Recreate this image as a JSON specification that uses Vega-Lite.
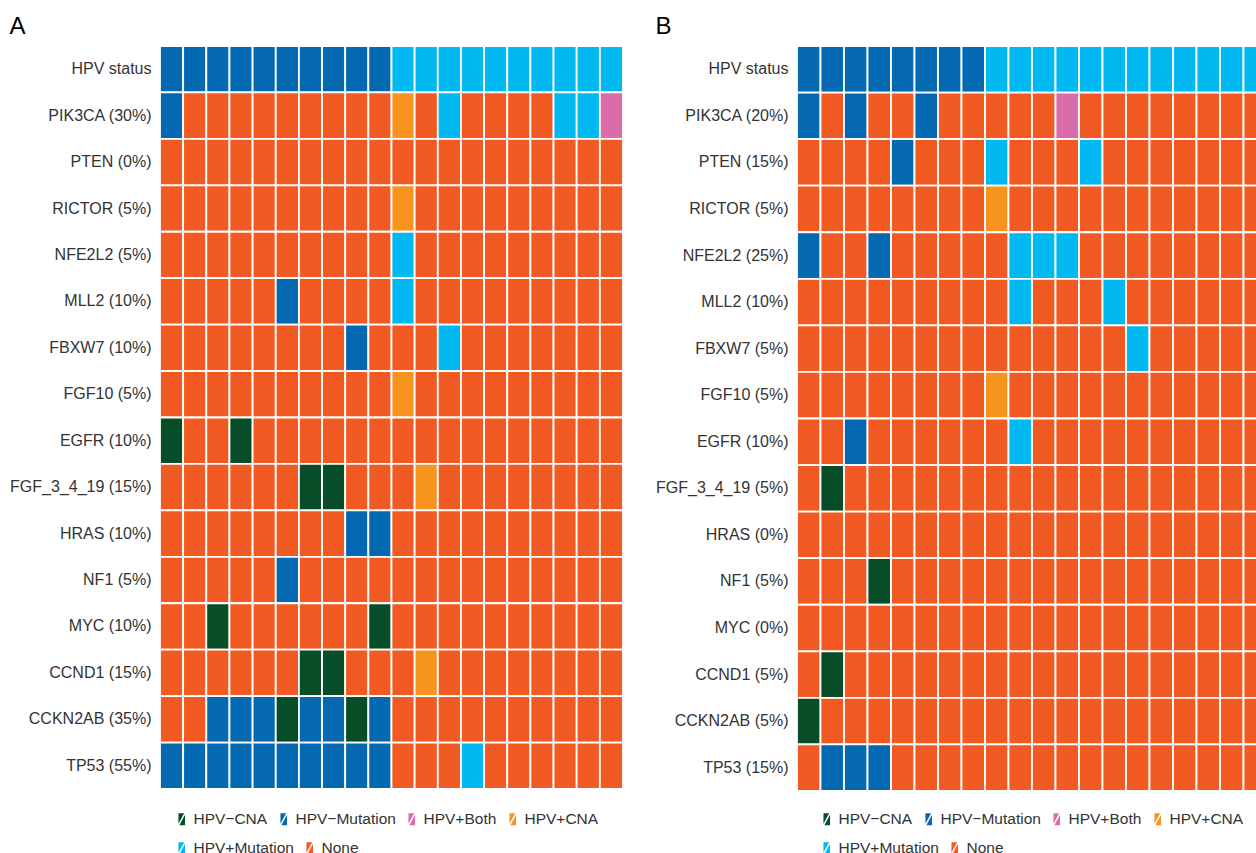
{
"$schema": "https://vega.github.io/schema/vega-lite/v6.json",
"padding": {"left": 9, "top": 15, "right": -10, "bottom": -2},
"config": {"view": {"stroke": null}, "font": "Liberation Sans",
  "axis": {"labelFont": "Liberation Sans", "labelFontSize": 16, "labelColor": "#333333", "ticks": false, "tickSize": 0, "domain": false, "grid": false, "labelPadding": 9, "title": null},
  "legend": {"labelFont": "Liberation Sans", "labelFontSize": 15.5, "labelColor": "#333333", "direction": "horizontal", "columnPadding": 8, "labelOffset": 4, "symbolSize": 144, "symbolStrokeWidth": 0, "symbolType": "M-0.55,-1L0.4,-1L-0.55,0.75ZM0.55,-0.75L0.55,1L-0.4,1Z", "title": null, "orient": "none"},
  "title": {"anchor": "start", "frame": "bounds", "fontSize": 24, "fontWeight": "normal", "color": "#000000", "font": "Liberation Sans", "offset": 6}
},
"datasets": {
"A": [
{"gene":"HPV status","sample":1,"status":"HPV−"},{"gene":"HPV status","sample":2,"status":"HPV−"},{"gene":"HPV status","sample":3,"status":"HPV−"},{"gene":"HPV status","sample":4,"status":"HPV−"},{"gene":"HPV status","sample":5,"status":"HPV−"},{"gene":"HPV status","sample":6,"status":"HPV−"},{"gene":"HPV status","sample":7,"status":"HPV−"},{"gene":"HPV status","sample":8,"status":"HPV−"},{"gene":"HPV status","sample":9,"status":"HPV−"},{"gene":"HPV status","sample":10,"status":"HPV−"},{"gene":"HPV status","sample":11,"status":"HPV+"},{"gene":"HPV status","sample":12,"status":"HPV+"},{"gene":"HPV status","sample":13,"status":"HPV+"},{"gene":"HPV status","sample":14,"status":"HPV+"},{"gene":"HPV status","sample":15,"status":"HPV+"},{"gene":"HPV status","sample":16,"status":"HPV+"},{"gene":"HPV status","sample":17,"status":"HPV+"},{"gene":"HPV status","sample":18,"status":"HPV+"},{"gene":"HPV status","sample":19,"status":"HPV+"},{"gene":"HPV status","sample":20,"status":"HPV+"},
{"gene":"PIK3CA (30%)","sample":1,"status":"HPV−Mutation"},{"gene":"PIK3CA (30%)","sample":2,"status":"None"},{"gene":"PIK3CA (30%)","sample":3,"status":"None"},{"gene":"PIK3CA (30%)","sample":4,"status":"None"},{"gene":"PIK3CA (30%)","sample":5,"status":"None"},{"gene":"PIK3CA (30%)","sample":6,"status":"None"},{"gene":"PIK3CA (30%)","sample":7,"status":"None"},{"gene":"PIK3CA (30%)","sample":8,"status":"None"},{"gene":"PIK3CA (30%)","sample":9,"status":"None"},{"gene":"PIK3CA (30%)","sample":10,"status":"None"},{"gene":"PIK3CA (30%)","sample":11,"status":"HPV+CNA"},{"gene":"PIK3CA (30%)","sample":12,"status":"None"},{"gene":"PIK3CA (30%)","sample":13,"status":"HPV+Mutation"},{"gene":"PIK3CA (30%)","sample":14,"status":"None"},{"gene":"PIK3CA (30%)","sample":15,"status":"None"},{"gene":"PIK3CA (30%)","sample":16,"status":"None"},{"gene":"PIK3CA (30%)","sample":17,"status":"None"},{"gene":"PIK3CA (30%)","sample":18,"status":"HPV+Mutation"},{"gene":"PIK3CA (30%)","sample":19,"status":"HPV+Mutation"},{"gene":"PIK3CA (30%)","sample":20,"status":"HPV+Both"},
{"gene":"PTEN (0%)","sample":1,"status":"None"},{"gene":"PTEN (0%)","sample":2,"status":"None"},{"gene":"PTEN (0%)","sample":3,"status":"None"},{"gene":"PTEN (0%)","sample":4,"status":"None"},{"gene":"PTEN (0%)","sample":5,"status":"None"},{"gene":"PTEN (0%)","sample":6,"status":"None"},{"gene":"PTEN (0%)","sample":7,"status":"None"},{"gene":"PTEN (0%)","sample":8,"status":"None"},{"gene":"PTEN (0%)","sample":9,"status":"None"},{"gene":"PTEN (0%)","sample":10,"status":"None"},{"gene":"PTEN (0%)","sample":11,"status":"None"},{"gene":"PTEN (0%)","sample":12,"status":"None"},{"gene":"PTEN (0%)","sample":13,"status":"None"},{"gene":"PTEN (0%)","sample":14,"status":"None"},{"gene":"PTEN (0%)","sample":15,"status":"None"},{"gene":"PTEN (0%)","sample":16,"status":"None"},{"gene":"PTEN (0%)","sample":17,"status":"None"},{"gene":"PTEN (0%)","sample":18,"status":"None"},{"gene":"PTEN (0%)","sample":19,"status":"None"},{"gene":"PTEN (0%)","sample":20,"status":"None"},
{"gene":"RICTOR (5%)","sample":1,"status":"None"},{"gene":"RICTOR (5%)","sample":2,"status":"None"},{"gene":"RICTOR (5%)","sample":3,"status":"None"},{"gene":"RICTOR (5%)","sample":4,"status":"None"},{"gene":"RICTOR (5%)","sample":5,"status":"None"},{"gene":"RICTOR (5%)","sample":6,"status":"None"},{"gene":"RICTOR (5%)","sample":7,"status":"None"},{"gene":"RICTOR (5%)","sample":8,"status":"None"},{"gene":"RICTOR (5%)","sample":9,"status":"None"},{"gene":"RICTOR (5%)","sample":10,"status":"None"},{"gene":"RICTOR (5%)","sample":11,"status":"HPV+CNA"},{"gene":"RICTOR (5%)","sample":12,"status":"None"},{"gene":"RICTOR (5%)","sample":13,"status":"None"},{"gene":"RICTOR (5%)","sample":14,"status":"None"},{"gene":"RICTOR (5%)","sample":15,"status":"None"},{"gene":"RICTOR (5%)","sample":16,"status":"None"},{"gene":"RICTOR (5%)","sample":17,"status":"None"},{"gene":"RICTOR (5%)","sample":18,"status":"None"},{"gene":"RICTOR (5%)","sample":19,"status":"None"},{"gene":"RICTOR (5%)","sample":20,"status":"None"},
{"gene":"NFE2L2 (5%)","sample":1,"status":"None"},{"gene":"NFE2L2 (5%)","sample":2,"status":"None"},{"gene":"NFE2L2 (5%)","sample":3,"status":"None"},{"gene":"NFE2L2 (5%)","sample":4,"status":"None"},{"gene":"NFE2L2 (5%)","sample":5,"status":"None"},{"gene":"NFE2L2 (5%)","sample":6,"status":"None"},{"gene":"NFE2L2 (5%)","sample":7,"status":"None"},{"gene":"NFE2L2 (5%)","sample":8,"status":"None"},{"gene":"NFE2L2 (5%)","sample":9,"status":"None"},{"gene":"NFE2L2 (5%)","sample":10,"status":"None"},{"gene":"NFE2L2 (5%)","sample":11,"status":"HPV+Mutation"},{"gene":"NFE2L2 (5%)","sample":12,"status":"None"},{"gene":"NFE2L2 (5%)","sample":13,"status":"None"},{"gene":"NFE2L2 (5%)","sample":14,"status":"None"},{"gene":"NFE2L2 (5%)","sample":15,"status":"None"},{"gene":"NFE2L2 (5%)","sample":16,"status":"None"},{"gene":"NFE2L2 (5%)","sample":17,"status":"None"},{"gene":"NFE2L2 (5%)","sample":18,"status":"None"},{"gene":"NFE2L2 (5%)","sample":19,"status":"None"},{"gene":"NFE2L2 (5%)","sample":20,"status":"None"},
{"gene":"MLL2 (10%)","sample":1,"status":"None"},{"gene":"MLL2 (10%)","sample":2,"status":"None"},{"gene":"MLL2 (10%)","sample":3,"status":"None"},{"gene":"MLL2 (10%)","sample":4,"status":"None"},{"gene":"MLL2 (10%)","sample":5,"status":"None"},{"gene":"MLL2 (10%)","sample":6,"status":"HPV−Mutation"},{"gene":"MLL2 (10%)","sample":7,"status":"None"},{"gene":"MLL2 (10%)","sample":8,"status":"None"},{"gene":"MLL2 (10%)","sample":9,"status":"None"},{"gene":"MLL2 (10%)","sample":10,"status":"None"},{"gene":"MLL2 (10%)","sample":11,"status":"HPV+Mutation"},{"gene":"MLL2 (10%)","sample":12,"status":"None"},{"gene":"MLL2 (10%)","sample":13,"status":"None"},{"gene":"MLL2 (10%)","sample":14,"status":"None"},{"gene":"MLL2 (10%)","sample":15,"status":"None"},{"gene":"MLL2 (10%)","sample":16,"status":"None"},{"gene":"MLL2 (10%)","sample":17,"status":"None"},{"gene":"MLL2 (10%)","sample":18,"status":"None"},{"gene":"MLL2 (10%)","sample":19,"status":"None"},{"gene":"MLL2 (10%)","sample":20,"status":"None"},
{"gene":"FBXW7 (10%)","sample":1,"status":"None"},{"gene":"FBXW7 (10%)","sample":2,"status":"None"},{"gene":"FBXW7 (10%)","sample":3,"status":"None"},{"gene":"FBXW7 (10%)","sample":4,"status":"None"},{"gene":"FBXW7 (10%)","sample":5,"status":"None"},{"gene":"FBXW7 (10%)","sample":6,"status":"None"},{"gene":"FBXW7 (10%)","sample":7,"status":"None"},{"gene":"FBXW7 (10%)","sample":8,"status":"None"},{"gene":"FBXW7 (10%)","sample":9,"status":"HPV−Mutation"},{"gene":"FBXW7 (10%)","sample":10,"status":"None"},{"gene":"FBXW7 (10%)","sample":11,"status":"None"},{"gene":"FBXW7 (10%)","sample":12,"status":"None"},{"gene":"FBXW7 (10%)","sample":13,"status":"HPV+Mutation"},{"gene":"FBXW7 (10%)","sample":14,"status":"None"},{"gene":"FBXW7 (10%)","sample":15,"status":"None"},{"gene":"FBXW7 (10%)","sample":16,"status":"None"},{"gene":"FBXW7 (10%)","sample":17,"status":"None"},{"gene":"FBXW7 (10%)","sample":18,"status":"None"},{"gene":"FBXW7 (10%)","sample":19,"status":"None"},{"gene":"FBXW7 (10%)","sample":20,"status":"None"},
{"gene":"FGF10 (5%)","sample":1,"status":"None"},{"gene":"FGF10 (5%)","sample":2,"status":"None"},{"gene":"FGF10 (5%)","sample":3,"status":"None"},{"gene":"FGF10 (5%)","sample":4,"status":"None"},{"gene":"FGF10 (5%)","sample":5,"status":"None"},{"gene":"FGF10 (5%)","sample":6,"status":"None"},{"gene":"FGF10 (5%)","sample":7,"status":"None"},{"gene":"FGF10 (5%)","sample":8,"status":"None"},{"gene":"FGF10 (5%)","sample":9,"status":"None"},{"gene":"FGF10 (5%)","sample":10,"status":"None"},{"gene":"FGF10 (5%)","sample":11,"status":"HPV+CNA"},{"gene":"FGF10 (5%)","sample":12,"status":"None"},{"gene":"FGF10 (5%)","sample":13,"status":"None"},{"gene":"FGF10 (5%)","sample":14,"status":"None"},{"gene":"FGF10 (5%)","sample":15,"status":"None"},{"gene":"FGF10 (5%)","sample":16,"status":"None"},{"gene":"FGF10 (5%)","sample":17,"status":"None"},{"gene":"FGF10 (5%)","sample":18,"status":"None"},{"gene":"FGF10 (5%)","sample":19,"status":"None"},{"gene":"FGF10 (5%)","sample":20,"status":"None"},
{"gene":"EGFR (10%)","sample":1,"status":"HPV−CNA"},{"gene":"EGFR (10%)","sample":2,"status":"None"},{"gene":"EGFR (10%)","sample":3,"status":"None"},{"gene":"EGFR (10%)","sample":4,"status":"HPV−CNA"},{"gene":"EGFR (10%)","sample":5,"status":"None"},{"gene":"EGFR (10%)","sample":6,"status":"None"},{"gene":"EGFR (10%)","sample":7,"status":"None"},{"gene":"EGFR (10%)","sample":8,"status":"None"},{"gene":"EGFR (10%)","sample":9,"status":"None"},{"gene":"EGFR (10%)","sample":10,"status":"None"},{"gene":"EGFR (10%)","sample":11,"status":"None"},{"gene":"EGFR (10%)","sample":12,"status":"None"},{"gene":"EGFR (10%)","sample":13,"status":"None"},{"gene":"EGFR (10%)","sample":14,"status":"None"},{"gene":"EGFR (10%)","sample":15,"status":"None"},{"gene":"EGFR (10%)","sample":16,"status":"None"},{"gene":"EGFR (10%)","sample":17,"status":"None"},{"gene":"EGFR (10%)","sample":18,"status":"None"},{"gene":"EGFR (10%)","sample":19,"status":"None"},{"gene":"EGFR (10%)","sample":20,"status":"None"},
{"gene":"FGF_3_4_19 (15%)","sample":1,"status":"None"},{"gene":"FGF_3_4_19 (15%)","sample":2,"status":"None"},{"gene":"FGF_3_4_19 (15%)","sample":3,"status":"None"},{"gene":"FGF_3_4_19 (15%)","sample":4,"status":"None"},{"gene":"FGF_3_4_19 (15%)","sample":5,"status":"None"},{"gene":"FGF_3_4_19 (15%)","sample":6,"status":"None"},{"gene":"FGF_3_4_19 (15%)","sample":7,"status":"HPV−CNA"},{"gene":"FGF_3_4_19 (15%)","sample":8,"status":"HPV−CNA"},{"gene":"FGF_3_4_19 (15%)","sample":9,"status":"None"},{"gene":"FGF_3_4_19 (15%)","sample":10,"status":"None"},{"gene":"FGF_3_4_19 (15%)","sample":11,"status":"None"},{"gene":"FGF_3_4_19 (15%)","sample":12,"status":"HPV+CNA"},{"gene":"FGF_3_4_19 (15%)","sample":13,"status":"None"},{"gene":"FGF_3_4_19 (15%)","sample":14,"status":"None"},{"gene":"FGF_3_4_19 (15%)","sample":15,"status":"None"},{"gene":"FGF_3_4_19 (15%)","sample":16,"status":"None"},{"gene":"FGF_3_4_19 (15%)","sample":17,"status":"None"},{"gene":"FGF_3_4_19 (15%)","sample":18,"status":"None"},{"gene":"FGF_3_4_19 (15%)","sample":19,"status":"None"},{"gene":"FGF_3_4_19 (15%)","sample":20,"status":"None"},
{"gene":"HRAS (10%)","sample":1,"status":"None"},{"gene":"HRAS (10%)","sample":2,"status":"None"},{"gene":"HRAS (10%)","sample":3,"status":"None"},{"gene":"HRAS (10%)","sample":4,"status":"None"},{"gene":"HRAS (10%)","sample":5,"status":"None"},{"gene":"HRAS (10%)","sample":6,"status":"None"},{"gene":"HRAS (10%)","sample":7,"status":"None"},{"gene":"HRAS (10%)","sample":8,"status":"None"},{"gene":"HRAS (10%)","sample":9,"status":"HPV−Mutation"},{"gene":"HRAS (10%)","sample":10,"status":"HPV−Mutation"},{"gene":"HRAS (10%)","sample":11,"status":"None"},{"gene":"HRAS (10%)","sample":12,"status":"None"},{"gene":"HRAS (10%)","sample":13,"status":"None"},{"gene":"HRAS (10%)","sample":14,"status":"None"},{"gene":"HRAS (10%)","sample":15,"status":"None"},{"gene":"HRAS (10%)","sample":16,"status":"None"},{"gene":"HRAS (10%)","sample":17,"status":"None"},{"gene":"HRAS (10%)","sample":18,"status":"None"},{"gene":"HRAS (10%)","sample":19,"status":"None"},{"gene":"HRAS (10%)","sample":20,"status":"None"},
{"gene":"NF1 (5%)","sample":1,"status":"None"},{"gene":"NF1 (5%)","sample":2,"status":"None"},{"gene":"NF1 (5%)","sample":3,"status":"None"},{"gene":"NF1 (5%)","sample":4,"status":"None"},{"gene":"NF1 (5%)","sample":5,"status":"None"},{"gene":"NF1 (5%)","sample":6,"status":"HPV−Mutation"},{"gene":"NF1 (5%)","sample":7,"status":"None"},{"gene":"NF1 (5%)","sample":8,"status":"None"},{"gene":"NF1 (5%)","sample":9,"status":"None"},{"gene":"NF1 (5%)","sample":10,"status":"None"},{"gene":"NF1 (5%)","sample":11,"status":"None"},{"gene":"NF1 (5%)","sample":12,"status":"None"},{"gene":"NF1 (5%)","sample":13,"status":"None"},{"gene":"NF1 (5%)","sample":14,"status":"None"},{"gene":"NF1 (5%)","sample":15,"status":"None"},{"gene":"NF1 (5%)","sample":16,"status":"None"},{"gene":"NF1 (5%)","sample":17,"status":"None"},{"gene":"NF1 (5%)","sample":18,"status":"None"},{"gene":"NF1 (5%)","sample":19,"status":"None"},{"gene":"NF1 (5%)","sample":20,"status":"None"},
{"gene":"MYC (10%)","sample":1,"status":"None"},{"gene":"MYC (10%)","sample":2,"status":"None"},{"gene":"MYC (10%)","sample":3,"status":"HPV−CNA"},{"gene":"MYC (10%)","sample":4,"status":"None"},{"gene":"MYC (10%)","sample":5,"status":"None"},{"gene":"MYC (10%)","sample":6,"status":"None"},{"gene":"MYC (10%)","sample":7,"status":"None"},{"gene":"MYC (10%)","sample":8,"status":"None"},{"gene":"MYC (10%)","sample":9,"status":"None"},{"gene":"MYC (10%)","sample":10,"status":"HPV−CNA"},{"gene":"MYC (10%)","sample":11,"status":"None"},{"gene":"MYC (10%)","sample":12,"status":"None"},{"gene":"MYC (10%)","sample":13,"status":"None"},{"gene":"MYC (10%)","sample":14,"status":"None"},{"gene":"MYC (10%)","sample":15,"status":"None"},{"gene":"MYC (10%)","sample":16,"status":"None"},{"gene":"MYC (10%)","sample":17,"status":"None"},{"gene":"MYC (10%)","sample":18,"status":"None"},{"gene":"MYC (10%)","sample":19,"status":"None"},{"gene":"MYC (10%)","sample":20,"status":"None"},
{"gene":"CCND1 (15%)","sample":1,"status":"None"},{"gene":"CCND1 (15%)","sample":2,"status":"None"},{"gene":"CCND1 (15%)","sample":3,"status":"None"},{"gene":"CCND1 (15%)","sample":4,"status":"None"},{"gene":"CCND1 (15%)","sample":5,"status":"None"},{"gene":"CCND1 (15%)","sample":6,"status":"None"},{"gene":"CCND1 (15%)","sample":7,"status":"HPV−CNA"},{"gene":"CCND1 (15%)","sample":8,"status":"HPV−CNA"},{"gene":"CCND1 (15%)","sample":9,"status":"None"},{"gene":"CCND1 (15%)","sample":10,"status":"None"},{"gene":"CCND1 (15%)","sample":11,"status":"None"},{"gene":"CCND1 (15%)","sample":12,"status":"HPV+CNA"},{"gene":"CCND1 (15%)","sample":13,"status":"None"},{"gene":"CCND1 (15%)","sample":14,"status":"None"},{"gene":"CCND1 (15%)","sample":15,"status":"None"},{"gene":"CCND1 (15%)","sample":16,"status":"None"},{"gene":"CCND1 (15%)","sample":17,"status":"None"},{"gene":"CCND1 (15%)","sample":18,"status":"None"},{"gene":"CCND1 (15%)","sample":19,"status":"None"},{"gene":"CCND1 (15%)","sample":20,"status":"None"},
{"gene":"CCKN2AB (35%)","sample":1,"status":"None"},{"gene":"CCKN2AB (35%)","sample":2,"status":"None"},{"gene":"CCKN2AB (35%)","sample":3,"status":"HPV−Mutation"},{"gene":"CCKN2AB (35%)","sample":4,"status":"HPV−Mutation"},{"gene":"CCKN2AB (35%)","sample":5,"status":"HPV−Mutation"},{"gene":"CCKN2AB (35%)","sample":6,"status":"HPV−CNA"},{"gene":"CCKN2AB (35%)","sample":7,"status":"HPV−Mutation"},{"gene":"CCKN2AB (35%)","sample":8,"status":"HPV−Mutation"},{"gene":"CCKN2AB (35%)","sample":9,"status":"HPV−CNA"},{"gene":"CCKN2AB (35%)","sample":10,"status":"HPV−Mutation"},{"gene":"CCKN2AB (35%)","sample":11,"status":"None"},{"gene":"CCKN2AB (35%)","sample":12,"status":"None"},{"gene":"CCKN2AB (35%)","sample":13,"status":"None"},{"gene":"CCKN2AB (35%)","sample":14,"status":"None"},{"gene":"CCKN2AB (35%)","sample":15,"status":"None"},{"gene":"CCKN2AB (35%)","sample":16,"status":"None"},{"gene":"CCKN2AB (35%)","sample":17,"status":"None"},{"gene":"CCKN2AB (35%)","sample":18,"status":"None"},{"gene":"CCKN2AB (35%)","sample":19,"status":"None"},{"gene":"CCKN2AB (35%)","sample":20,"status":"None"},
{"gene":"TP53 (55%)","sample":1,"status":"HPV−Mutation"},{"gene":"TP53 (55%)","sample":2,"status":"HPV−Mutation"},{"gene":"TP53 (55%)","sample":3,"status":"HPV−Mutation"},{"gene":"TP53 (55%)","sample":4,"status":"HPV−Mutation"},{"gene":"TP53 (55%)","sample":5,"status":"HPV−Mutation"},{"gene":"TP53 (55%)","sample":6,"status":"HPV−Mutation"},{"gene":"TP53 (55%)","sample":7,"status":"HPV−Mutation"},{"gene":"TP53 (55%)","sample":8,"status":"HPV−Mutation"},{"gene":"TP53 (55%)","sample":9,"status":"HPV−Mutation"},{"gene":"TP53 (55%)","sample":10,"status":"HPV−Mutation"},{"gene":"TP53 (55%)","sample":11,"status":"None"},{"gene":"TP53 (55%)","sample":12,"status":"None"},{"gene":"TP53 (55%)","sample":13,"status":"None"},{"gene":"TP53 (55%)","sample":14,"status":"HPV+Mutation"},{"gene":"TP53 (55%)","sample":15,"status":"None"},{"gene":"TP53 (55%)","sample":16,"status":"None"},{"gene":"TP53 (55%)","sample":17,"status":"None"},{"gene":"TP53 (55%)","sample":18,"status":"None"},{"gene":"TP53 (55%)","sample":19,"status":"None"},{"gene":"TP53 (55%)","sample":20,"status":"None"}
],
"B": [
{"gene":"HPV status","sample":1,"status":"HPV−"},{"gene":"HPV status","sample":2,"status":"HPV−"},{"gene":"HPV status","sample":3,"status":"HPV−"},{"gene":"HPV status","sample":4,"status":"HPV−"},{"gene":"HPV status","sample":5,"status":"HPV−"},{"gene":"HPV status","sample":6,"status":"HPV−"},{"gene":"HPV status","sample":7,"status":"HPV−"},{"gene":"HPV status","sample":8,"status":"HPV−"},{"gene":"HPV status","sample":9,"status":"HPV+"},{"gene":"HPV status","sample":10,"status":"HPV+"},{"gene":"HPV status","sample":11,"status":"HPV+"},{"gene":"HPV status","sample":12,"status":"HPV+"},{"gene":"HPV status","sample":13,"status":"HPV+"},{"gene":"HPV status","sample":14,"status":"HPV+"},{"gene":"HPV status","sample":15,"status":"HPV+"},{"gene":"HPV status","sample":16,"status":"HPV+"},{"gene":"HPV status","sample":17,"status":"HPV+"},{"gene":"HPV status","sample":18,"status":"HPV+"},{"gene":"HPV status","sample":19,"status":"HPV+"},{"gene":"HPV status","sample":20,"status":"HPV+"},
{"gene":"PIK3CA (20%)","sample":1,"status":"HPV−Mutation"},{"gene":"PIK3CA (20%)","sample":2,"status":"None"},{"gene":"PIK3CA (20%)","sample":3,"status":"HPV−Mutation"},{"gene":"PIK3CA (20%)","sample":4,"status":"None"},{"gene":"PIK3CA (20%)","sample":5,"status":"None"},{"gene":"PIK3CA (20%)","sample":6,"status":"HPV−Mutation"},{"gene":"PIK3CA (20%)","sample":7,"status":"None"},{"gene":"PIK3CA (20%)","sample":8,"status":"None"},{"gene":"PIK3CA (20%)","sample":9,"status":"None"},{"gene":"PIK3CA (20%)","sample":10,"status":"None"},{"gene":"PIK3CA (20%)","sample":11,"status":"None"},{"gene":"PIK3CA (20%)","sample":12,"status":"HPV+Both"},{"gene":"PIK3CA (20%)","sample":13,"status":"None"},{"gene":"PIK3CA (20%)","sample":14,"status":"None"},{"gene":"PIK3CA (20%)","sample":15,"status":"None"},{"gene":"PIK3CA (20%)","sample":16,"status":"None"},{"gene":"PIK3CA (20%)","sample":17,"status":"None"},{"gene":"PIK3CA (20%)","sample":18,"status":"None"},{"gene":"PIK3CA (20%)","sample":19,"status":"None"},{"gene":"PIK3CA (20%)","sample":20,"status":"None"},
{"gene":"PTEN (15%)","sample":1,"status":"None"},{"gene":"PTEN (15%)","sample":2,"status":"None"},{"gene":"PTEN (15%)","sample":3,"status":"None"},{"gene":"PTEN (15%)","sample":4,"status":"None"},{"gene":"PTEN (15%)","sample":5,"status":"HPV−Mutation"},{"gene":"PTEN (15%)","sample":6,"status":"None"},{"gene":"PTEN (15%)","sample":7,"status":"None"},{"gene":"PTEN (15%)","sample":8,"status":"None"},{"gene":"PTEN (15%)","sample":9,"status":"HPV+Mutation"},{"gene":"PTEN (15%)","sample":10,"status":"None"},{"gene":"PTEN (15%)","sample":11,"status":"None"},{"gene":"PTEN (15%)","sample":12,"status":"None"},{"gene":"PTEN (15%)","sample":13,"status":"HPV+Mutation"},{"gene":"PTEN (15%)","sample":14,"status":"None"},{"gene":"PTEN (15%)","sample":15,"status":"None"},{"gene":"PTEN (15%)","sample":16,"status":"None"},{"gene":"PTEN (15%)","sample":17,"status":"None"},{"gene":"PTEN (15%)","sample":18,"status":"None"},{"gene":"PTEN (15%)","sample":19,"status":"None"},{"gene":"PTEN (15%)","sample":20,"status":"None"},
{"gene":"RICTOR (5%)","sample":1,"status":"None"},{"gene":"RICTOR (5%)","sample":2,"status":"None"},{"gene":"RICTOR (5%)","sample":3,"status":"None"},{"gene":"RICTOR (5%)","sample":4,"status":"None"},{"gene":"RICTOR (5%)","sample":5,"status":"None"},{"gene":"RICTOR (5%)","sample":6,"status":"None"},{"gene":"RICTOR (5%)","sample":7,"status":"None"},{"gene":"RICTOR (5%)","sample":8,"status":"None"},{"gene":"RICTOR (5%)","sample":9,"status":"HPV+CNA"},{"gene":"RICTOR (5%)","sample":10,"status":"None"},{"gene":"RICTOR (5%)","sample":11,"status":"None"},{"gene":"RICTOR (5%)","sample":12,"status":"None"},{"gene":"RICTOR (5%)","sample":13,"status":"None"},{"gene":"RICTOR (5%)","sample":14,"status":"None"},{"gene":"RICTOR (5%)","sample":15,"status":"None"},{"gene":"RICTOR (5%)","sample":16,"status":"None"},{"gene":"RICTOR (5%)","sample":17,"status":"None"},{"gene":"RICTOR (5%)","sample":18,"status":"None"},{"gene":"RICTOR (5%)","sample":19,"status":"None"},{"gene":"RICTOR (5%)","sample":20,"status":"None"},
{"gene":"NFE2L2 (25%)","sample":1,"status":"HPV−Mutation"},{"gene":"NFE2L2 (25%)","sample":2,"status":"None"},{"gene":"NFE2L2 (25%)","sample":3,"status":"None"},{"gene":"NFE2L2 (25%)","sample":4,"status":"HPV−Mutation"},{"gene":"NFE2L2 (25%)","sample":5,"status":"None"},{"gene":"NFE2L2 (25%)","sample":6,"status":"None"},{"gene":"NFE2L2 (25%)","sample":7,"status":"None"},{"gene":"NFE2L2 (25%)","sample":8,"status":"None"},{"gene":"NFE2L2 (25%)","sample":9,"status":"None"},{"gene":"NFE2L2 (25%)","sample":10,"status":"HPV+Mutation"},{"gene":"NFE2L2 (25%)","sample":11,"status":"HPV+Mutation"},{"gene":"NFE2L2 (25%)","sample":12,"status":"HPV+Mutation"},{"gene":"NFE2L2 (25%)","sample":13,"status":"None"},{"gene":"NFE2L2 (25%)","sample":14,"status":"None"},{"gene":"NFE2L2 (25%)","sample":15,"status":"None"},{"gene":"NFE2L2 (25%)","sample":16,"status":"None"},{"gene":"NFE2L2 (25%)","sample":17,"status":"None"},{"gene":"NFE2L2 (25%)","sample":18,"status":"None"},{"gene":"NFE2L2 (25%)","sample":19,"status":"None"},{"gene":"NFE2L2 (25%)","sample":20,"status":"None"},
{"gene":"MLL2 (10%)","sample":1,"status":"None"},{"gene":"MLL2 (10%)","sample":2,"status":"None"},{"gene":"MLL2 (10%)","sample":3,"status":"None"},{"gene":"MLL2 (10%)","sample":4,"status":"None"},{"gene":"MLL2 (10%)","sample":5,"status":"None"},{"gene":"MLL2 (10%)","sample":6,"status":"None"},{"gene":"MLL2 (10%)","sample":7,"status":"None"},{"gene":"MLL2 (10%)","sample":8,"status":"None"},{"gene":"MLL2 (10%)","sample":9,"status":"None"},{"gene":"MLL2 (10%)","sample":10,"status":"HPV+Mutation"},{"gene":"MLL2 (10%)","sample":11,"status":"None"},{"gene":"MLL2 (10%)","sample":12,"status":"None"},{"gene":"MLL2 (10%)","sample":13,"status":"None"},{"gene":"MLL2 (10%)","sample":14,"status":"HPV+Mutation"},{"gene":"MLL2 (10%)","sample":15,"status":"None"},{"gene":"MLL2 (10%)","sample":16,"status":"None"},{"gene":"MLL2 (10%)","sample":17,"status":"None"},{"gene":"MLL2 (10%)","sample":18,"status":"None"},{"gene":"MLL2 (10%)","sample":19,"status":"None"},{"gene":"MLL2 (10%)","sample":20,"status":"None"},
{"gene":"FBXW7 (5%)","sample":1,"status":"None"},{"gene":"FBXW7 (5%)","sample":2,"status":"None"},{"gene":"FBXW7 (5%)","sample":3,"status":"None"},{"gene":"FBXW7 (5%)","sample":4,"status":"None"},{"gene":"FBXW7 (5%)","sample":5,"status":"None"},{"gene":"FBXW7 (5%)","sample":6,"status":"None"},{"gene":"FBXW7 (5%)","sample":7,"status":"None"},{"gene":"FBXW7 (5%)","sample":8,"status":"None"},{"gene":"FBXW7 (5%)","sample":9,"status":"None"},{"gene":"FBXW7 (5%)","sample":10,"status":"None"},{"gene":"FBXW7 (5%)","sample":11,"status":"None"},{"gene":"FBXW7 (5%)","sample":12,"status":"None"},{"gene":"FBXW7 (5%)","sample":13,"status":"None"},{"gene":"FBXW7 (5%)","sample":14,"status":"None"},{"gene":"FBXW7 (5%)","sample":15,"status":"HPV+Mutation"},{"gene":"FBXW7 (5%)","sample":16,"status":"None"},{"gene":"FBXW7 (5%)","sample":17,"status":"None"},{"gene":"FBXW7 (5%)","sample":18,"status":"None"},{"gene":"FBXW7 (5%)","sample":19,"status":"None"},{"gene":"FBXW7 (5%)","sample":20,"status":"None"},
{"gene":"FGF10 (5%)","sample":1,"status":"None"},{"gene":"FGF10 (5%)","sample":2,"status":"None"},{"gene":"FGF10 (5%)","sample":3,"status":"None"},{"gene":"FGF10 (5%)","sample":4,"status":"None"},{"gene":"FGF10 (5%)","sample":5,"status":"None"},{"gene":"FGF10 (5%)","sample":6,"status":"None"},{"gene":"FGF10 (5%)","sample":7,"status":"None"},{"gene":"FGF10 (5%)","sample":8,"status":"None"},{"gene":"FGF10 (5%)","sample":9,"status":"HPV+CNA"},{"gene":"FGF10 (5%)","sample":10,"status":"None"},{"gene":"FGF10 (5%)","sample":11,"status":"None"},{"gene":"FGF10 (5%)","sample":12,"status":"None"},{"gene":"FGF10 (5%)","sample":13,"status":"None"},{"gene":"FGF10 (5%)","sample":14,"status":"None"},{"gene":"FGF10 (5%)","sample":15,"status":"None"},{"gene":"FGF10 (5%)","sample":16,"status":"None"},{"gene":"FGF10 (5%)","sample":17,"status":"None"},{"gene":"FGF10 (5%)","sample":18,"status":"None"},{"gene":"FGF10 (5%)","sample":19,"status":"None"},{"gene":"FGF10 (5%)","sample":20,"status":"None"},
{"gene":"EGFR (10%)","sample":1,"status":"None"},{"gene":"EGFR (10%)","sample":2,"status":"None"},{"gene":"EGFR (10%)","sample":3,"status":"HPV−Mutation"},{"gene":"EGFR (10%)","sample":4,"status":"None"},{"gene":"EGFR (10%)","sample":5,"status":"None"},{"gene":"EGFR (10%)","sample":6,"status":"None"},{"gene":"EGFR (10%)","sample":7,"status":"None"},{"gene":"EGFR (10%)","sample":8,"status":"None"},{"gene":"EGFR (10%)","sample":9,"status":"None"},{"gene":"EGFR (10%)","sample":10,"status":"HPV+Mutation"},{"gene":"EGFR (10%)","sample":11,"status":"None"},{"gene":"EGFR (10%)","sample":12,"status":"None"},{"gene":"EGFR (10%)","sample":13,"status":"None"},{"gene":"EGFR (10%)","sample":14,"status":"None"},{"gene":"EGFR (10%)","sample":15,"status":"None"},{"gene":"EGFR (10%)","sample":16,"status":"None"},{"gene":"EGFR (10%)","sample":17,"status":"None"},{"gene":"EGFR (10%)","sample":18,"status":"None"},{"gene":"EGFR (10%)","sample":19,"status":"None"},{"gene":"EGFR (10%)","sample":20,"status":"None"},
{"gene":"FGF_3_4_19 (5%)","sample":1,"status":"None"},{"gene":"FGF_3_4_19 (5%)","sample":2,"status":"HPV−CNA"},{"gene":"FGF_3_4_19 (5%)","sample":3,"status":"None"},{"gene":"FGF_3_4_19 (5%)","sample":4,"status":"None"},{"gene":"FGF_3_4_19 (5%)","sample":5,"status":"None"},{"gene":"FGF_3_4_19 (5%)","sample":6,"status":"None"},{"gene":"FGF_3_4_19 (5%)","sample":7,"status":"None"},{"gene":"FGF_3_4_19 (5%)","sample":8,"status":"None"},{"gene":"FGF_3_4_19 (5%)","sample":9,"status":"None"},{"gene":"FGF_3_4_19 (5%)","sample":10,"status":"None"},{"gene":"FGF_3_4_19 (5%)","sample":11,"status":"None"},{"gene":"FGF_3_4_19 (5%)","sample":12,"status":"None"},{"gene":"FGF_3_4_19 (5%)","sample":13,"status":"None"},{"gene":"FGF_3_4_19 (5%)","sample":14,"status":"None"},{"gene":"FGF_3_4_19 (5%)","sample":15,"status":"None"},{"gene":"FGF_3_4_19 (5%)","sample":16,"status":"None"},{"gene":"FGF_3_4_19 (5%)","sample":17,"status":"None"},{"gene":"FGF_3_4_19 (5%)","sample":18,"status":"None"},{"gene":"FGF_3_4_19 (5%)","sample":19,"status":"None"},{"gene":"FGF_3_4_19 (5%)","sample":20,"status":"None"},
{"gene":"HRAS (0%)","sample":1,"status":"None"},{"gene":"HRAS (0%)","sample":2,"status":"None"},{"gene":"HRAS (0%)","sample":3,"status":"None"},{"gene":"HRAS (0%)","sample":4,"status":"None"},{"gene":"HRAS (0%)","sample":5,"status":"None"},{"gene":"HRAS (0%)","sample":6,"status":"None"},{"gene":"HRAS (0%)","sample":7,"status":"None"},{"gene":"HRAS (0%)","sample":8,"status":"None"},{"gene":"HRAS (0%)","sample":9,"status":"None"},{"gene":"HRAS (0%)","sample":10,"status":"None"},{"gene":"HRAS (0%)","sample":11,"status":"None"},{"gene":"HRAS (0%)","sample":12,"status":"None"},{"gene":"HRAS (0%)","sample":13,"status":"None"},{"gene":"HRAS (0%)","sample":14,"status":"None"},{"gene":"HRAS (0%)","sample":15,"status":"None"},{"gene":"HRAS (0%)","sample":16,"status":"None"},{"gene":"HRAS (0%)","sample":17,"status":"None"},{"gene":"HRAS (0%)","sample":18,"status":"None"},{"gene":"HRAS (0%)","sample":19,"status":"None"},{"gene":"HRAS (0%)","sample":20,"status":"None"},
{"gene":"NF1 (5%)","sample":1,"status":"None"},{"gene":"NF1 (5%)","sample":2,"status":"None"},{"gene":"NF1 (5%)","sample":3,"status":"None"},{"gene":"NF1 (5%)","sample":4,"status":"HPV−CNA"},{"gene":"NF1 (5%)","sample":5,"status":"None"},{"gene":"NF1 (5%)","sample":6,"status":"None"},{"gene":"NF1 (5%)","sample":7,"status":"None"},{"gene":"NF1 (5%)","sample":8,"status":"None"},{"gene":"NF1 (5%)","sample":9,"status":"None"},{"gene":"NF1 (5%)","sample":10,"status":"None"},{"gene":"NF1 (5%)","sample":11,"status":"None"},{"gene":"NF1 (5%)","sample":12,"status":"None"},{"gene":"NF1 (5%)","sample":13,"status":"None"},{"gene":"NF1 (5%)","sample":14,"status":"None"},{"gene":"NF1 (5%)","sample":15,"status":"None"},{"gene":"NF1 (5%)","sample":16,"status":"None"},{"gene":"NF1 (5%)","sample":17,"status":"None"},{"gene":"NF1 (5%)","sample":18,"status":"None"},{"gene":"NF1 (5%)","sample":19,"status":"None"},{"gene":"NF1 (5%)","sample":20,"status":"None"},
{"gene":"MYC (0%)","sample":1,"status":"None"},{"gene":"MYC (0%)","sample":2,"status":"None"},{"gene":"MYC (0%)","sample":3,"status":"None"},{"gene":"MYC (0%)","sample":4,"status":"None"},{"gene":"MYC (0%)","sample":5,"status":"None"},{"gene":"MYC (0%)","sample":6,"status":"None"},{"gene":"MYC (0%)","sample":7,"status":"None"},{"gene":"MYC (0%)","sample":8,"status":"None"},{"gene":"MYC (0%)","sample":9,"status":"None"},{"gene":"MYC (0%)","sample":10,"status":"None"},{"gene":"MYC (0%)","sample":11,"status":"None"},{"gene":"MYC (0%)","sample":12,"status":"None"},{"gene":"MYC (0%)","sample":13,"status":"None"},{"gene":"MYC (0%)","sample":14,"status":"None"},{"gene":"MYC (0%)","sample":15,"status":"None"},{"gene":"MYC (0%)","sample":16,"status":"None"},{"gene":"MYC (0%)","sample":17,"status":"None"},{"gene":"MYC (0%)","sample":18,"status":"None"},{"gene":"MYC (0%)","sample":19,"status":"None"},{"gene":"MYC (0%)","sample":20,"status":"None"},
{"gene":"CCND1 (5%)","sample":1,"status":"None"},{"gene":"CCND1 (5%)","sample":2,"status":"HPV−CNA"},{"gene":"CCND1 (5%)","sample":3,"status":"None"},{"gene":"CCND1 (5%)","sample":4,"status":"None"},{"gene":"CCND1 (5%)","sample":5,"status":"None"},{"gene":"CCND1 (5%)","sample":6,"status":"None"},{"gene":"CCND1 (5%)","sample":7,"status":"None"},{"gene":"CCND1 (5%)","sample":8,"status":"None"},{"gene":"CCND1 (5%)","sample":9,"status":"None"},{"gene":"CCND1 (5%)","sample":10,"status":"None"},{"gene":"CCND1 (5%)","sample":11,"status":"None"},{"gene":"CCND1 (5%)","sample":12,"status":"None"},{"gene":"CCND1 (5%)","sample":13,"status":"None"},{"gene":"CCND1 (5%)","sample":14,"status":"None"},{"gene":"CCND1 (5%)","sample":15,"status":"None"},{"gene":"CCND1 (5%)","sample":16,"status":"None"},{"gene":"CCND1 (5%)","sample":17,"status":"None"},{"gene":"CCND1 (5%)","sample":18,"status":"None"},{"gene":"CCND1 (5%)","sample":19,"status":"None"},{"gene":"CCND1 (5%)","sample":20,"status":"None"},
{"gene":"CCKN2AB (5%)","sample":1,"status":"HPV−CNA"},{"gene":"CCKN2AB (5%)","sample":2,"status":"None"},{"gene":"CCKN2AB (5%)","sample":3,"status":"None"},{"gene":"CCKN2AB (5%)","sample":4,"status":"None"},{"gene":"CCKN2AB (5%)","sample":5,"status":"None"},{"gene":"CCKN2AB (5%)","sample":6,"status":"None"},{"gene":"CCKN2AB (5%)","sample":7,"status":"None"},{"gene":"CCKN2AB (5%)","sample":8,"status":"None"},{"gene":"CCKN2AB (5%)","sample":9,"status":"None"},{"gene":"CCKN2AB (5%)","sample":10,"status":"None"},{"gene":"CCKN2AB (5%)","sample":11,"status":"None"},{"gene":"CCKN2AB (5%)","sample":12,"status":"None"},{"gene":"CCKN2AB (5%)","sample":13,"status":"None"},{"gene":"CCKN2AB (5%)","sample":14,"status":"None"},{"gene":"CCKN2AB (5%)","sample":15,"status":"None"},{"gene":"CCKN2AB (5%)","sample":16,"status":"None"},{"gene":"CCKN2AB (5%)","sample":17,"status":"None"},{"gene":"CCKN2AB (5%)","sample":18,"status":"None"},{"gene":"CCKN2AB (5%)","sample":19,"status":"None"},{"gene":"CCKN2AB (5%)","sample":20,"status":"None"},
{"gene":"TP53 (15%)","sample":1,"status":"None"},{"gene":"TP53 (15%)","sample":2,"status":"HPV−Mutation"},{"gene":"TP53 (15%)","sample":3,"status":"HPV−Mutation"},{"gene":"TP53 (15%)","sample":4,"status":"HPV−Mutation"},{"gene":"TP53 (15%)","sample":5,"status":"None"},{"gene":"TP53 (15%)","sample":6,"status":"None"},{"gene":"TP53 (15%)","sample":7,"status":"None"},{"gene":"TP53 (15%)","sample":8,"status":"None"},{"gene":"TP53 (15%)","sample":9,"status":"None"},{"gene":"TP53 (15%)","sample":10,"status":"None"},{"gene":"TP53 (15%)","sample":11,"status":"None"},{"gene":"TP53 (15%)","sample":12,"status":"None"},{"gene":"TP53 (15%)","sample":13,"status":"None"},{"gene":"TP53 (15%)","sample":14,"status":"None"},{"gene":"TP53 (15%)","sample":15,"status":"None"},{"gene":"TP53 (15%)","sample":16,"status":"None"},{"gene":"TP53 (15%)","sample":17,"status":"None"},{"gene":"TP53 (15%)","sample":18,"status":"None"},{"gene":"TP53 (15%)","sample":19,"status":"None"},{"gene":"TP53 (15%)","sample":20,"status":"None"}
]
},
"hconcat": [
{
 "title": {"text": "A"},
 "width": 463, "height": 743,
 "data": {"name": "A"},
 "encoding": {
  "x": {"field": "sample", "type": "ordinal", "axis": null, "scale": {"paddingInner": 0, "paddingOuter": 0}},
  "y": {"field": "gene", "type": "nominal", "scale": {"paddingInner": 0, "paddingOuter": 0},
        "sort": ["HPV status","PIK3CA (30%)","PTEN (0%)","RICTOR (5%)","NFE2L2 (5%)","MLL2 (10%)","FBXW7 (10%)","FGF10 (5%)","EGFR (10%)","FGF_3_4_19 (15%)","HRAS (10%)","NF1 (5%)","MYC (10%)","CCND1 (15%)","CCKN2AB (35%)","TP53 (55%)"]}
 },
 "layer": [
  {"mark": {"type": "rect", "stroke": "white", "strokeWidth": 1.8},
   "encoding": {"color": {"field": "status", "type": "nominal",
    "scale": {"domain": ["HPV−CNA","HPV−Mutation","HPV+Both","HPV+CNA","HPV+Mutation","None","HPV−","HPV+"], "range": ["#074D27","#0569B2","#DB6CAA","#F7941E","#00B9F0","#F15A22","#0569B2","#00B9F0"]},
    "legend": {"values": ["HPV−CNA","HPV−Mutation","HPV+Both","HPV+CNA"], "legendX": 14, "legendY": 765}}}},
  {"mark": {"type": "rect", "stroke": "white", "strokeWidth": 1.8},
   "encoding": {"fill": {"field": "status", "type": "nominal",
    "scale": {"domain": ["HPV+Mutation","None","HPV−CNA","HPV−Mutation","HPV+Both","HPV+CNA","HPV−","HPV+"], "range": ["#00B9F0","#F15A22","#074D27","#0569B2","#DB6CAA","#F7941E","#0569B2","#00B9F0"]},
    "legend": {"values": ["HPV+Mutation","None"], "legendX": 14, "legendY": 794}}}}
 ]
},
{
 "title": {"text": "B"},
 "width": 470, "height": 745,
 "data": {"name": "B"},
 "encoding": {
  "x": {"field": "sample", "type": "ordinal", "axis": null, "scale": {"paddingInner": 0, "paddingOuter": 0}},
  "y": {"field": "gene", "type": "nominal", "scale": {"paddingInner": 0, "paddingOuter": 0},
        "sort": ["HPV status","PIK3CA (20%)","PTEN (15%)","RICTOR (5%)","NFE2L2 (25%)","MLL2 (10%)","FBXW7 (5%)","FGF10 (5%)","EGFR (10%)","FGF_3_4_19 (5%)","HRAS (0%)","NF1 (5%)","MYC (0%)","CCND1 (5%)","CCKN2AB (5%)","TP53 (15%)"]}
 },
 "layer": [
  {"mark": {"type": "rect", "stroke": "white", "strokeWidth": 1.8},
   "encoding": {"color": {"field": "status", "type": "nominal",
    "scale": {"domain": ["HPV−CNA","HPV−Mutation","HPV+Both","HPV+CNA","HPV+Mutation","None","HPV−","HPV+"], "range": ["#074D27","#0569B2","#DB6CAA","#F7941E","#00B9F0","#F15A22","#0569B2","#00B9F0"]},
    "legend": {"values": ["HPV−CNA","HPV−Mutation","HPV+Both","HPV+CNA"], "legendX": 22, "legendY": 765}}}},
  {"mark": {"type": "rect", "stroke": "white", "strokeWidth": 1.8},
   "encoding": {"fill": {"field": "status", "type": "nominal",
    "scale": {"domain": ["HPV+Mutation","None","HPV−CNA","HPV−Mutation","HPV+Both","HPV+CNA","HPV−","HPV+"], "range": ["#00B9F0","#F15A22","#074D27","#0569B2","#DB6CAA","#F7941E","#0569B2","#00B9F0"]},
    "legend": {"values": ["HPV+Mutation","None"], "legendX": 22, "legendY": 794}}}}
 ]
}
],
"spacing": 31,
"resolve": {"scale": {"color": "independent", "fill": "independent"}, "legend": {"color": "independent", "fill": "independent"}}
}
